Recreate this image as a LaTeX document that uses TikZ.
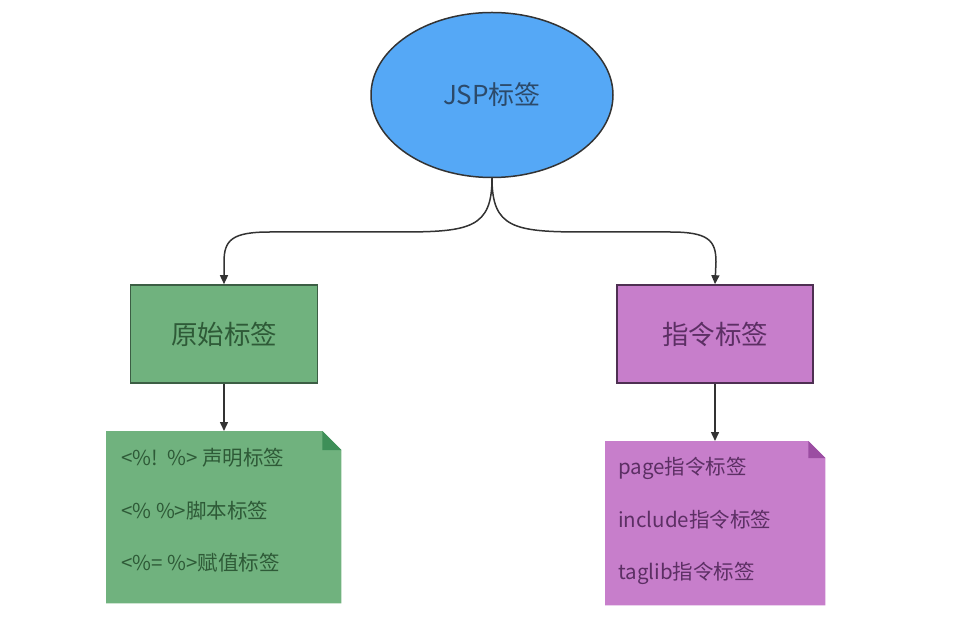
\documentclass[tikz,border=0pt]{standalone}
\usepackage{fontspec}
\setmainfont{Noto Sans CJK SC}
\usetikzlibrary{arrows.meta,shapes.geometric}
\definecolor{jspblue}{HTML}{55A8F6}
\definecolor{jsptext}{HTML}{2C4A6A}
\definecolor{grfill}{HTML}{70B27E}
\definecolor{grdark}{HTML}{3C5E44}
\definecolor{grtext}{HTML}{2E5A37}
\definecolor{grfold}{HTML}{3E8F58}
\definecolor{pufill}{HTML}{C77ECB}
\definecolor{pudark}{HTML}{4E3052}
\definecolor{putext}{HTML}{5C2F64}
\definecolor{pufold}{HTML}{9B4DA2}
\definecolor{linec}{HTML}{333333}
\tikzset{
  conn/.style={draw=linec, line width=1.5pt, -{Triangle[length=9pt,width=8pt]}},
  boxg/.style={draw=grdark, line width=1.6pt, fill=grfill, minimum width=187pt, minimum height=98pt, text=grtext, font=\fontsize{26.5}{30}\selectfont},
  boxp/.style={draw=pudark, line width=1.6pt, fill=pufill, minimum width=196pt, minimum height=98pt, text=putext, font=\fontsize{26.5}{30}\selectfont},
  notearea/.style={anchor=north west, inner sep=0pt},
  ntxt/.style={anchor=west, inner sep=0pt, font=\fontsize{20.5}{24}\selectfont},
}
\begin{document}
\begin{tikzpicture}[x=1pt,y=-1pt]
\useasboundingbox (0,0) rectangle (961,617);
% top ellipse
\node[ellipse, draw=linec, line width=1.5pt, fill=jspblue, minimum width=242pt, minimum height=165pt, inner sep=0pt, text=jsptext, font=\fontsize{26}{30}\selectfont] (jsp) at (492,95) {JSP标签};
% level 2
\node[boxg] (orig) at (224,334) {原始标签};
\node[boxp] (dir) at (715,334) {指令标签};
% notes
\node[notearea, minimum width=235pt, minimum height=172pt] (n1) at (106,431) {};
\node[notearea, minimum width=220pt, minimum height=164pt] (n2) at (605,441) {};
\fill[grfill] (n1.north west) -- ([xshift=-19pt]n1.north east) -- ([yshift=-19pt]n1.north east) -- (n1.south east) -- (n1.south west) -- cycle;
\fill[grfold] ([xshift=-19pt]n1.north east) -- ([yshift=-19pt]n1.north east) -- ([xshift=-19pt,yshift=-19pt]n1.north east) -- cycle;
\fill[pufill] (n2.north west) -- ([xshift=-17pt]n2.north east) -- ([yshift=-17pt]n2.north east) -- (n2.south east) -- (n2.south west) -- cycle;
\fill[pufold] ([xshift=-17pt]n2.north east) -- ([yshift=-17pt]n2.north east) -- ([xshift=-17pt,yshift=-17pt]n2.north east) -- cycle;
% note texts
\node[ntxt, text=grtext] (t1) at (121,458) {<\%!\ \ \%> 声明标签};
\node[ntxt, text=grtext] (t2) at (121,511) {<\% \%>脚本标签};
\node[ntxt, text=grtext] (t3) at (121,563) {<\%= \%>赋值标签};
\node[ntxt, text=putext] (u1) at (618,468) {page指令标签};
\node[ntxt, text=putext] (u2) at (618,520) {include指令标签};
\node[ntxt, text=putext] (u3) at (618,573) {taglib指令标签};
% connectors
\coordinate (la) at (400,232);
\coordinate (lb) at (270,232);
\coordinate (ra) at (584,232);
\coordinate (rb) at (670,232);
\draw[conn] (jsp.south) .. controls (492,228) and (470,232) .. (la) -- (lb) .. controls (232,232) and (224,240) .. (224,262) -- (orig.north);
\draw[conn] (jsp.south) .. controls (492,228) and (514,232) .. (ra) -- (rb) .. controls (708,232) and (716,240) .. (716,262) -- (dir.north);
\draw[conn] (orig.south) -- (orig.south |- n1.north);
\draw[conn] (dir.south) -- (dir.south |- n2.north);
\end{tikzpicture}
\end{document}
